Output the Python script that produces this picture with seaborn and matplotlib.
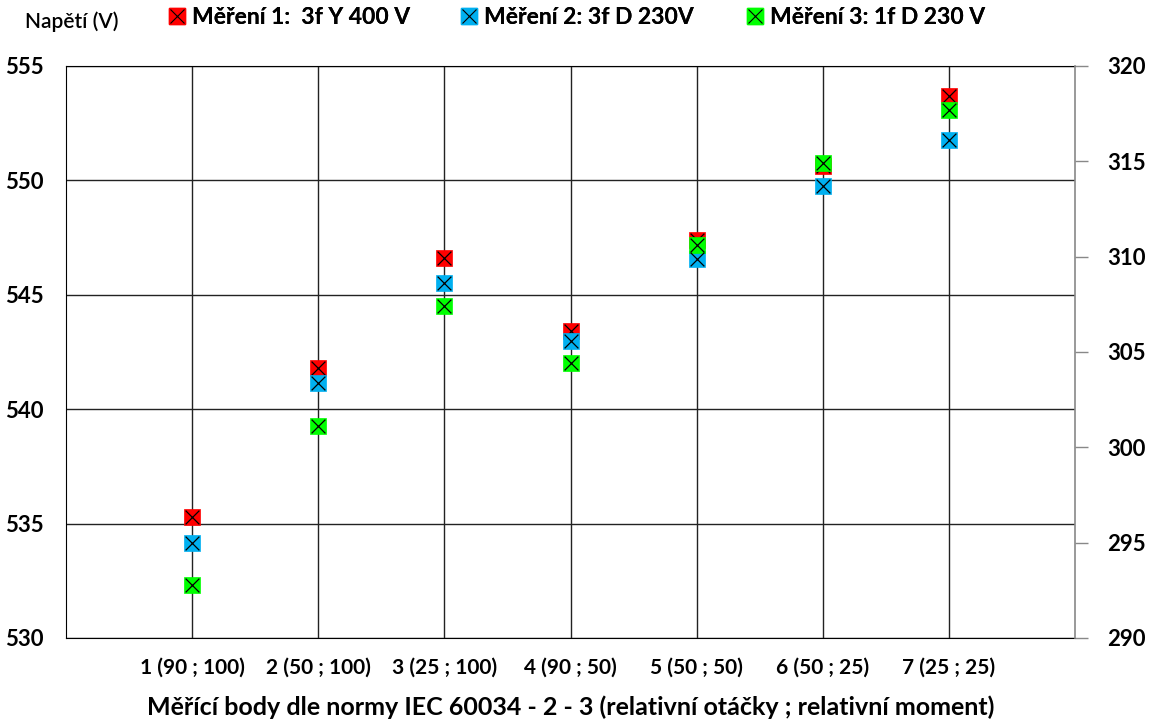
import numpy as np
import pandas as pd
import seaborn as sns
import matplotlib.pyplot as plt
from matplotlib.lines import Line2D

# body mereni
kategorie = ["1 (90 ; 100)", "2 (50 ; 100)", "3 (25 ; 100)", "4 (90 ; 50)",
             "5 (50 ; 50)", "6 (50 ; 25)", "7 (25 ; 25)"]
# mereni 1 - leva osa (400 V)
mer1 = [535.3, 541.8, 546.6, 543.4, 547.4, 550.65, 553.7]
# mereni 2 a 3 - prava osa (230 V)
mer2 = [295.0, 303.4, 308.6, 305.6, 309.9, 313.7, 316.1]
mer3 = [292.8, 301.1, 307.4, 304.4, 310.6, 314.9, 317.7]

nazvy = ["Měření 1:  3f Y 400 V", "Měření 2: 3f D 230V", "Měření 3: 1f D 230 V"]
barvy = ["#ff0000", "#00b0f0", "#00ff00"]

sns.set_style("white")
plt.rcParams['font.family'] = ['Lato', 'DejaVu Sans']
plt.rcParams['font.weight'] = 'bold'
plt.rcParams['text.color'] = 'black'
plt.rcParams['xtick.color'] = 'black'
plt.rcParams['ytick.color'] = 'black'

x = np.arange(1, len(kategorie) + 1)
df = pd.DataFrame({"x": x, "m1": mer1, "m2": mer2, "m3": mer3})

fig = plt.figure(figsize=(11.51, 7.24), dpi=100)
ax = fig.add_axes([66/1151, 1 - 638/724, (1075-66)/1151, (638-66)/724])
ax2 = ax.twinx()

ms = 11
def body(osa, sloupec, barva):
    sns.scatterplot(data=df, x="x", y=sloupec, ax=osa, marker="s", s=ms**2,
                    color=barva, edgecolor=barva, linewidth=0.5, zorder=3)
    sns.scatterplot(data=df, x="x", y=sloupec, ax=osa, marker="x", s=(ms*0.9)**2,
                    color="black", linewidth=0.9, zorder=4)

body(ax, "m1", barvy[0])
body(ax2, "m2", barvy[1])
body(ax2, "m3", barvy[2])

ax.set_xlim(0, 8)
ax.set_ylim(530, 555)
ax2.set_ylim(290, 320)
ax.set_yticks(np.arange(530, 556, 5))
ax2.set_yticks(np.arange(290, 321, 5))
ax.set_xticks(x)
ax.set_xticklabels(kategorie)
ax.grid(True, color="#222222", linewidth=1.0)
ax.set_axisbelow(True)
ax2.grid(False)

ax.tick_params(axis="y", length=0, pad=16, labelsize=16, labelcolor="black")
ax.tick_params(axis="x", length=0, pad=14, labelsize=15, labelcolor="black")
ax2.tick_params(axis="y", length=9, width=1, color="#888888", direction="out",
                right=True, pad=14, labelsize=16, labelcolor="black")
for s in ["left", "top", "bottom"]:
    ax.spines[s].set_color("black")
    ax2.spines[s].set_visible(False)
ax.spines["right"].set_visible(False)
ax2.spines["right"].set_color("#888888")
ax2.spines["right"].set_linewidth(1.2)

ax.set_xlabel("Měřící body dle normy IEC 60034 - 2 - 3 (relativní otáčky ; relativní moment)",
              fontsize=18, fontweight="bold", labelpad=13, color="black")
ax.set_ylabel("")
ax2.set_ylabel("")

# legenda - kazda polozka zvlast
zacatky = [147, 439, 725]
for b, n, z in zip(barvy, nazvy, zacatky):
    sq = Line2D([], [], marker="s", color=b, linestyle="", markersize=11)
    xx = Line2D([], [], marker="x", color="black", linestyle="", markersize=10,
                markeredgewidth=0.8)
    leg = fig.legend([(sq, xx)], [n], loc="center left",
                     bbox_to_anchor=(z/1151, 1 - 18/724), frameon=False,
                     handlelength=1.0, handletextpad=0.15, borderpad=0.3,
                     prop={"family": ["Lato", "DejaVu Sans"], "weight": "bold", "size": 16.5})
    fig.add_artist(leg)
fig.text(25/1151, 1 - 22/724, "Napětí (V)", fontsize=15, fontweight="semibold",
         va="center", ha="left")

fig.savefig("out.png", dpi=100)
